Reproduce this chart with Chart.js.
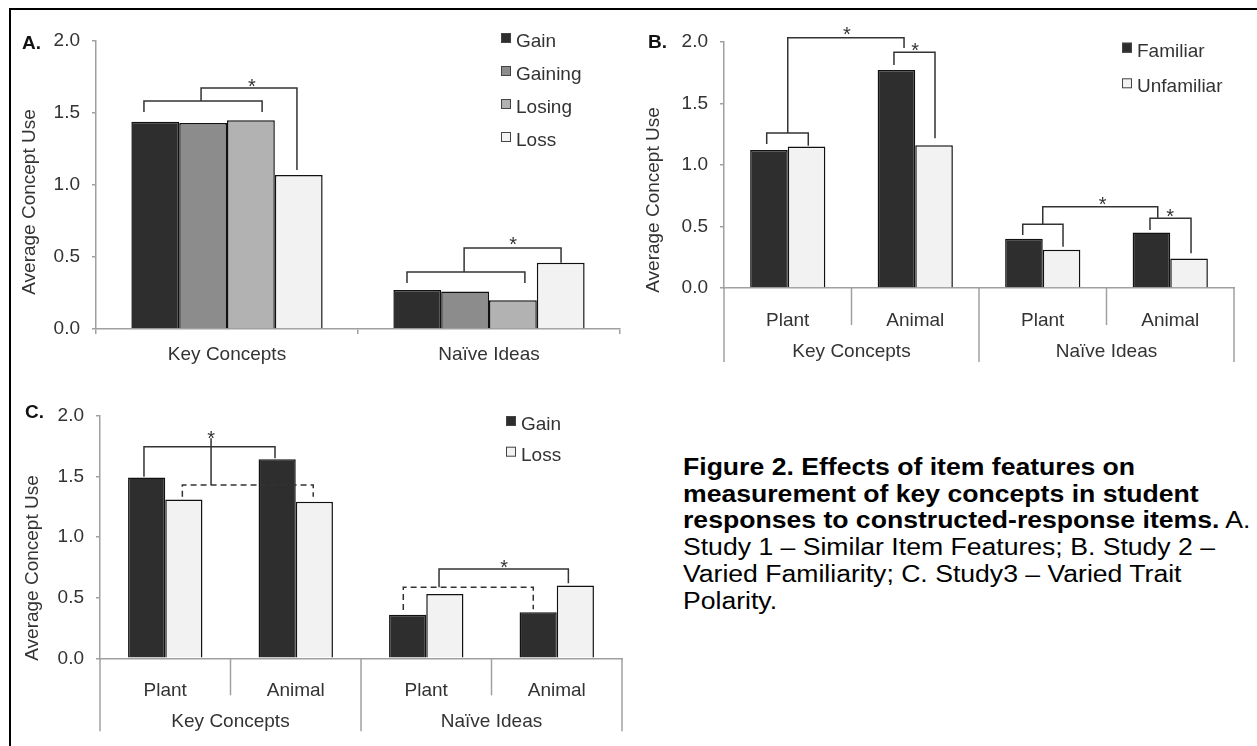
<!DOCTYPE html>
<html><head><meta charset="utf-8">
<script src="https://cdn.jsdelivr.net/npm/chart.js@4.4.1/dist/chart.umd.min.js"></script>
<style>
html,body{margin:0;padding:0;background:#fff;width:1257px;height:746px;overflow:hidden;}
#frame{position:absolute;left:9px;top:8px;width:1300px;height:800px;border-left:2px solid #000;border-top:2px solid #000;}
canvas{position:absolute;}
#cap{position:absolute;left:683px;top:454px;font-family:"Liberation Sans",Arial,sans-serif;font-size:23px;line-height:26.7px;color:#000;white-space:nowrap;transform:scaleX(1.156);transform-origin:0 0;}
</style></head>
<body>
<div id="frame"></div>
<canvas id="cA" width="640" height="370" style="left:0;top:0;width:640px;height:370px"></canvas>
<canvas id="cB" width="635" height="370" style="left:622px;top:0;width:635px;height:370px"></canvas>
<canvas id="cC" width="640" height="376" style="left:0;top:370px;width:640px;height:376px"></canvas>
<div id="cap"><b>Figure 2. Effects of item features on<br>measurement of key concepts in student<br>responses to constructed-response items.</b> A.<br>Study 1 – Similar Item Features; B. Study 2 –<br>Varied Familiarity; C. Study3 – Varied Trait<br>Polarity.</div>
<script>
// ---------- DATA ----------
const yTicks = [0, 0.5, 1.0, 1.5, 2.0];
const yTitle = 'Average Concept Use';

// Panel A – Study 1
const catsA = ['Key Concepts', 'Naïve Ideas'];
const seriesA = ['Gain', 'Gaining', 'Losing', 'Loss'];
const gainA = [1.44, 0.27];
const gainingA = [1.43, 0.26];
const losingA = [1.45, 0.20];
const lossA = [1.07, 0.46];

// Panels B & C – sub categories and groups
const subCats = ['Plant', 'Animal', 'Plant', 'Animal'];
const groupCats = ['Key Concepts', 'Naïve Ideas'];

// Panel B – Study 2
const seriesB = ['Familiar', 'Unfamiliar'];
const familiarB = [1.12, 1.77, 0.40, 0.45];
const unfamiliarB = [1.15, 1.16, 0.31, 0.24];

// Panel C – Study 3
const seriesC = ['Gain', 'Loss'];
const gainC = [1.49, 1.64, 0.36, 0.38];
const lossC = [1.31, 1.29, 0.53, 0.60];

// Significance brackets: [x1, x2 (category units), yTop, yLeftEnd, yRightEnd (data units), dashed]
const bracketsA = [
  [-0.317, 0.134, 1.583, 1.507, 1.507, false],
  [-0.099, 0.267, 1.674, 1.583, 1.104, false],
  [0.687, 1.137, 0.396, 0.319, 0.319, false],
  [0.905, 1.275, 0.5625, 0.396, 0.46, false]
];
const starsA = [[0.095, 1.722], [1.092, 0.625]];

const bracketsB = [
  [-0.165, 0.161, 1.259, 1.169, 1.156, false],
  [0.0, 0.912, 2.033, 1.259, 1.949, false],
  [0.833, 1.155, 1.914, 1.811, 1.216, false],
  [1.843, 2.159, 0.517, 0.430, 0.335, false],
  [2.0, 2.902, 0.660, 0.517, 0.571, false],
  [2.841, 3.163, 0.566, 0.471, 0.282, false]
];
const starsB = [[0.464, 2.10], [1.0, 1.969], [2.469, 0.715], [3.0, 0.623]];

const bracketsC = [
  [-0.163, 0.841, 1.744, 1.497, 1.649, false],
  [0.351, 0.351, 1.815, 1.429, 1.429, false],
  [0.131, 1.134, 1.429, 1.332, 1.332, true],
  [1.824, 2.820, 0.585, 0.398, 0.404, true],
  [2.098, 3.089, 0.736, 0.585, 0.618, false]
];
const starsC = [[0.351, 1.855], [2.596, 0.788]];

// ---------- STYLE ----------
const FONT = '"Liberation Sans", Arial, sans-serif';
const TXT = '#333';
const AX = '#a0a0a0';
Chart.defaults.font.family = FONT;
Chart.defaults.font.size = 19;
Chart.defaults.color = TXT;

function yScale(width) {
  return {
    min: 0, max: 2,
    afterFit: s => { s.width = width; },
    afterBuildTicks: s => { s.ticks = yTicks.map(v => ({ value: v })); },
    ticks: { callback: v => Number(v).toFixed(1), font: { size: 19 }, color: TXT, padding: 12 },
    grid: { drawOnChartArea: false, drawTicks: true, tickLength: 4, color: AX, lineWidth: 1.5 },
    border: { color: AX, width: 1.5 }
  };
}

function panelPlugin(cfg) {
  return {
    id: 'panel' + cfg.letter,
    afterDraw(chart) {
      const ctx = chart.ctx, xs = chart.scales.x, ys = chart.scales.y;
      const bottom = chart.chartArea.bottom;
      ctx.save();
      // panel letter
      ctx.fillStyle = '#111';
      ctx.font = 'bold 19px ' + FONT;
      ctx.textAlign = 'left'; ctx.textBaseline = 'alphabetic';
      ctx.fillText(cfg.letter, cfg.letterX, cfg.letterY);
      // y title
      ctx.save();
      ctx.translate(cfg.titleX, cfg.titleY);
      ctx.rotate(-Math.PI / 2);
      ctx.font = '19px ' + FONT; ctx.fillStyle = TXT;
      ctx.textAlign = 'center'; ctx.textBaseline = 'alphabetic';
      ctx.fillText(yTitle, 0, 0);
      ctx.restore();
      // legend
      chart.data.datasets.forEach((ds, i) => {
        const by = cfg.legY + i * cfg.legDy;
        ctx.fillStyle = ds.backgroundColor;
        ctx.fillRect(cfg.legX, by - 14, 10, 10);
        ctx.strokeStyle = '#444'; ctx.lineWidth = 1; ctx.setLineDash([]);
        ctx.strokeRect(cfg.legX + 0.5, by - 13.5, 9, 9);
        ctx.fillStyle = TXT; ctx.font = '19px ' + FONT;
        ctx.textAlign = 'left'; ctx.textBaseline = 'alphabetic';
        ctx.fillText(ds.label, cfg.legX + 15, by);
      });
      // group dividers and group labels
      if (cfg.groups) {
        const n = xs.getLabels().length;
        ctx.strokeStyle = AX; ctx.lineWidth = 1.5; ctx.setLineDash([]);
        for (let k = 0; k <= n; k++) {
          const x = xs.getPixelForValue(k - 0.5);
          const len = (k % 2 === 0) ? cfg.outerLen : cfg.innerLen;
          ctx.beginPath(); ctx.moveTo(x, bottom); ctx.lineTo(x, bottom + len); ctx.stroke();
        }
        ctx.fillStyle = TXT; ctx.font = '19px ' + FONT;
        ctx.textAlign = 'center'; ctx.textBaseline = 'alphabetic';
        cfg.groups.forEach((g, i) => {
          ctx.fillText(g, xs.getPixelForValue(i * 2 + 0.5), bottom + 68.6);
        });
      }
      // brackets
      ctx.strokeStyle = '#333'; ctx.lineWidth = 1.5;
      cfg.brackets.forEach(b => {
        const [u1, u2, vt, vl, vr, dashed] = b;
        const x1 = xs.getPixelForValue(u1), x2 = xs.getPixelForValue(u2);
        ctx.setLineDash(dashed ? [6, 4] : []);
        ctx.beginPath();
        ctx.moveTo(x1, ys.getPixelForValue(vl));
        ctx.lineTo(x1, ys.getPixelForValue(vt));
        ctx.lineTo(x2, ys.getPixelForValue(vt));
        ctx.lineTo(x2, ys.getPixelForValue(vr));
        ctx.stroke();
      });
      ctx.setLineDash([]);
      // stars
      ctx.fillStyle = '#333'; ctx.font = '20px ' + FONT;
      ctx.textAlign = 'center'; ctx.textBaseline = 'alphabetic';
      cfg.stars.forEach(s => {
        ctx.fillText('*', xs.getPixelForValue(s[0]), ys.getPixelForValue(s[1]) + 11.5);
      });
      ctx.restore();
    }
  };
}

function barDs(label, data, color, pct) {
  return { label, data, backgroundColor: color, borderColor: '#111', borderWidth: 1.5,
           categoryPercentage: pct, barPercentage: 1.0 };
}

const common = {
  responsive: false, animation: false, events: [],
  plugins: { legend: { display: false }, tooltip: { enabled: false } }
};

// ---------- Panel A ----------
new Chart(document.getElementById('cA'), {
  type: 'bar',
  data: {
    labels: catsA,
    datasets: [
      barDs(seriesA[0], gainA, '#2e2e2e', 0.73),
      barDs(seriesA[1], gainingA, '#8c8c8c', 0.73),
      barDs(seriesA[2], losingA, '#b2b2b2', 0.73),
      barDs(seriesA[3], lossA, '#f2f2f2', 0.73)
    ]
  },
  options: Object.assign({}, common, {
    layout: { padding: { top: 41, right: 20, left: 0, bottom: 0 } },
    scales: {
      x: {
        afterFit: s => { s.height = 41; },
        ticks: { font: { size: 19 }, color: TXT, padding: 9, maxRotation: 0, autoSkip: false },
        grid: { offset: true, drawOnChartArea: false, tickLength: 5, color: AX, lineWidth: 1.5 },
        border: { color: AX, width: 1.5 }
      },
      y: yScale(96)
    }
  }),
  plugins: [panelPlugin({ letter: 'A.', letterX: 22, letterY: 49,
    titleX: 35, titleY: 202, legX: 501, legY: 47, legDy: 33,
    brackets: bracketsA, stars: starsA })]
});

// ---------- Panel B ----------
new Chart(document.getElementById('cB'), {
  type: 'bar',
  data: {
    labels: subCats,
    datasets: [
      barDs(seriesB[0], familiarB, '#2e2e2e', 0.59),
      barDs(seriesB[1], unfamiliarB, '#f2f2f2', 0.59)
    ]
  },
  options: Object.assign({}, common, {
    layout: { padding: { top: 41.7, right: 23, left: 0, bottom: 0 } },
    scales: {
      x: {
        afterFit: s => { s.height = 82; },
        ticks: { font: { size: 19 }, color: TXT, padding: 13, maxRotation: 0, autoSkip: false },
        grid: { display: false },
        border: { color: AX, width: 1.5 }
      },
      y: yScale(102)
    }
  }),
  plugins: [panelPlugin({ letter: 'B.', letterX: 26, letterY: 48,
    titleX: 36.5, titleY: 200, legX: 500, legY: 56.7, legDy: 35.6,
    groups: groupCats, innerLen: 37, outerLen: 74,
    brackets: bracketsB, stars: starsB })]
});

// ---------- Panel C ----------
new Chart(document.getElementById('cC'), {
  type: 'bar',
  data: {
    labels: subCats,
    datasets: [
      barDs(seriesC[0], gainC, '#2e2e2e', 0.57),
      barDs(seriesC[1], lossC, '#f2f2f2', 0.57)
    ]
  },
  options: Object.assign({}, common, {
    layout: { padding: { top: 45.7, right: 18, left: 0, bottom: 0 } },
    scales: {
      x: {
        afterFit: s => { s.height = 87.7; },
        ticks: { font: { size: 19 }, color: TXT, padding: 13, maxRotation: 0, autoSkip: false },
        grid: { display: false },
        border: { color: AX, width: 1.5 }
      },
      y: yScale(100)
    }
  }),
  plugins: [panelPlugin({ letter: 'C.', letterX: 25, letterY: 48,
    titleX: 37.5, titleY: 198, legX: 506, legY: 60, legDy: 30.7,
    groups: groupCats, innerLen: 37, outerLen: 73,
    brackets: bracketsC, stars: starsC })]
});
</script>
</body></html>
